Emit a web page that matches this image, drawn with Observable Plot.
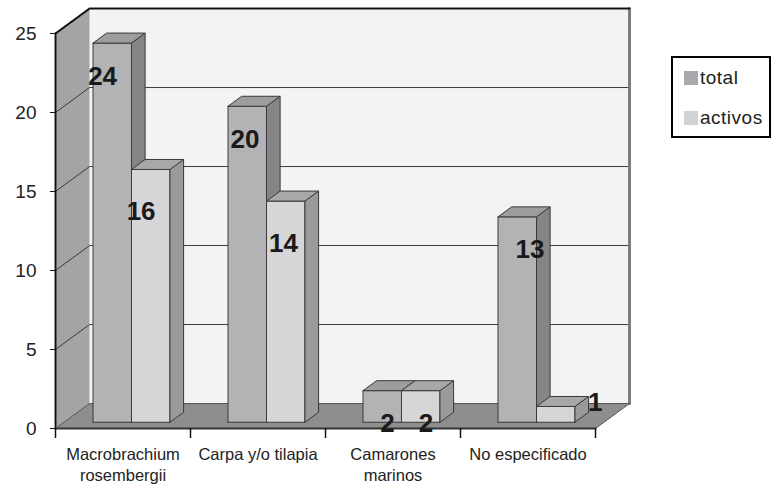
<!DOCTYPE html>
<html>
<head>
<meta charset="utf-8">
<script src="https://cdn.jsdelivr.net/npm/d3@7"></script>
<script src="https://cdn.jsdelivr.net/npm/@observablehq/plot@0.6"></script>
<style>
  html, body { margin: 0; padding: 0; background: #fff; }
  #wrap { position: relative; width: 771px; height: 489px; }
  #legend { position: absolute; left: 671px; top: 56px; width: 96px; height: 78px;
    border: 2px solid #000; background: #fff; font-family: "Liberation Sans", Arial, sans-serif;
    font-size: 19px; color: #222; }
  .item { position: absolute; left: 11px; display: flex; align-items: center; }
  .sw { width: 14px; height: 14px; margin-right: 2px; }
</style>
</head>
<body>
<div id="wrap"></div>
<script>
// ---- data ----
const categories = ["Macrobrachium\nrosembergii", "Carpa y/o tilapia", "Camarones\nmarinos", "No especificado"];
const total = [24, 20, 2, 13];
const activos = [16, 14, 2, 1];
const seriesNames = ["total", "activos"];
const yTicks = [0, 5, 10, 15, 20, 25];
const gridValues = [5, 10, 15, 20];

// ---- styling ----
const frontColors = ["#b3b3b5", "#d6d6d8"];
const sideColors = ["#858587", "#9a9a9c"];
const topColors = ["#9d9d9f", "#a8a8aa"];
const legendColors = ["#a9a9ab", "#d2d2d4"];

// oblique projection (depth d in [0,1]) expressed in data units
const DX = 0.252, DY = 1.58;
const P = (x, y, d) => ({x: x + d * DX, y: y + d * DY});
const poly = pts => [...pts, pts[0]];
const yMax = 25, nCat = categories.length;

const series = [total, activos];
const barW = 0.285, barStart = 0.215, d0 = 0.25, d1 = 0.65;

const marks = [];
// back wall
marks.push(Plot.line(poly([P(0,0,1), P(nCat,0,1), P(nCat,yMax,1), P(0,yMax,1)]), {x:"x", y:"y", fill:"#f3f3f3", stroke:"none"}));
// left wall
marks.push(Plot.line(poly([P(0,0,0), P(0,yMax,0), P(0,yMax,1), P(0,0,1)]), {x:"x", y:"y", fill:"#a4a4a4", stroke:"none"}));
// gridlines
for (const v of gridValues) {
  marks.push(Plot.line([P(0,v,0), P(0,v,1), P(nCat,v,1)], {x:"x", y:"y", stroke:"#3a3a3a", strokeWidth:1}));
}
// back wall right edge
marks.push(Plot.line([P(nCat,0,1), P(nCat,yMax,1)], {x:"x", y:"y", stroke:"#7c7c7c", strokeWidth:3}));
// top dotted edges
marks.push(Plot.line([P(0,yMax,0), P(0,yMax,1), P(nCat,yMax,1)], {x:"x", y:"y", stroke:"#111", strokeWidth:2, strokeDasharray:"1,1"}));
marks.push(Plot.line([P(0,0,0), P(0,yMax,0)], {x:"x", y:"y", stroke:"#111", strokeWidth:2, strokeDasharray:"1,1"}));
// floor
marks.push(Plot.line(poly([P(0,0,0), P(nCat,0,0), P(nCat,0,1), P(0,0,1)]), {x:"x", y:"y", fill:"#8e8e8e", stroke:"#555", strokeWidth:1}));
marks.push(Plot.line([P(0,0,0), P(nCat,0,0)], {x:"x", y:"y", stroke:"#333", strokeWidth:2}));

// bars
const labels = [];
categories.forEach((c, i) => {
  series.forEach((vals, s) => {
    const v = vals[i];
    const L = i + barStart + s * barW, R = L + barW;
    marks.push(Plot.line(poly([P(L,0,d0), P(R,0,d0), P(R,v,d0), P(L,v,d0)]), {x:"x", y:"y", fill: frontColors[s], stroke:"#3a3a3a", strokeWidth:1}));
    marks.push(Plot.line(poly([P(R,0,d0), P(R,0,d1), P(R,v,d1), P(R,v,d0)]), {x:"x", y:"y", fill: sideColors[s], stroke:"#3a3a3a", strokeWidth:1}));
    marks.push(Plot.line(poly([P(L,v,d0), P(R,v,d0), P(R,v,d1), P(L,v,d1)]), {x:"x", y:"y", fill: topColors[s], stroke:"#3a3a3a", strokeWidth:1}));
    if (v < 1.5) {
      const p = P(R, v + 0.25, d1);
      labels.push({x: p.x - 0.005, y: p.y - d1*DY + d0*DY, text: String(v), anchor: "start"});
    } else {
      const p = P((L + R) / 2 + (i - 1.3) * 0.055, Math.max(v - (s ? 2.7 : 2.1), -0.1), d0);
      labels.push({x: p.x, y: p.y, text: String(v), anchor: "middle"});
    }
  });
});
const labMid = labels.filter(d => d.anchor === "middle");
const labStart = labels.filter(d => d.anchor === "start");
marks.push(Plot.text(labMid, {x:"x", y:"y", text:"text", fontSize: 26, fontWeight:"bold", fill:"#1a1a1a", textAnchor:"middle", fontFamily:"Liberation Sans, Arial, sans-serif"}));
marks.push(Plot.text(labStart, {x:"x", y:"y", text:"text", fontSize: 26, fontWeight:"bold", fill:"#1a1a1a", textAnchor:"start", fontFamily:"Liberation Sans, Arial, sans-serif"}));

// axes
marks.push(Plot.axisY({ticks: yTicks, tickSize: 5, tickPadding: 14, fontSize: 19, label: null, tickFormat: d => String(d), stroke: "#111"}));
marks.push(Plot.axisX({ticks: d3.range(nCat + 1), tickSize: 10, tickFormat: () => "", label: null, stroke: "#111", strokeWidth: 1.5}));
marks.push(Plot.axisX({ticks: d3.range(nCat).map(i => i + 0.5), tickSize: 0, tickPadding: 17, fontSize: 16.5, lineHeight: 1.25, label: null, tickFormat: d => categories[Math.floor(d)]}));

const chart = Plot.plot({
  width: 771, height: 489,
  marginLeft: 55, marginRight: 176, marginTop: 33, marginBottom: 61,
  x: {domain: [0, nCat]},
  y: {domain: [0, yMax]},
  style: {fontFamily: "Liberation Sans, Arial, sans-serif", background: "#fff", color: "#222", overflow: "visible"},
  marks
});
const wrap = document.getElementById("wrap");
wrap.appendChild(chart);

// legend
const legend = document.createElement("div");
legend.id = "legend";
seriesNames.forEach((n, s) => {
  const it = document.createElement("div");
  it.className = "item";
  it.style.top = (s === 0 ? 9 : 49) + "px";
  it.innerHTML = `<div class="sw" style="background:${legendColors[s]}"></div><span style="letter-spacing:0.5px">${n}</span>`;
  legend.appendChild(it);
});
wrap.appendChild(legend);
</script>
</body>
</html>
